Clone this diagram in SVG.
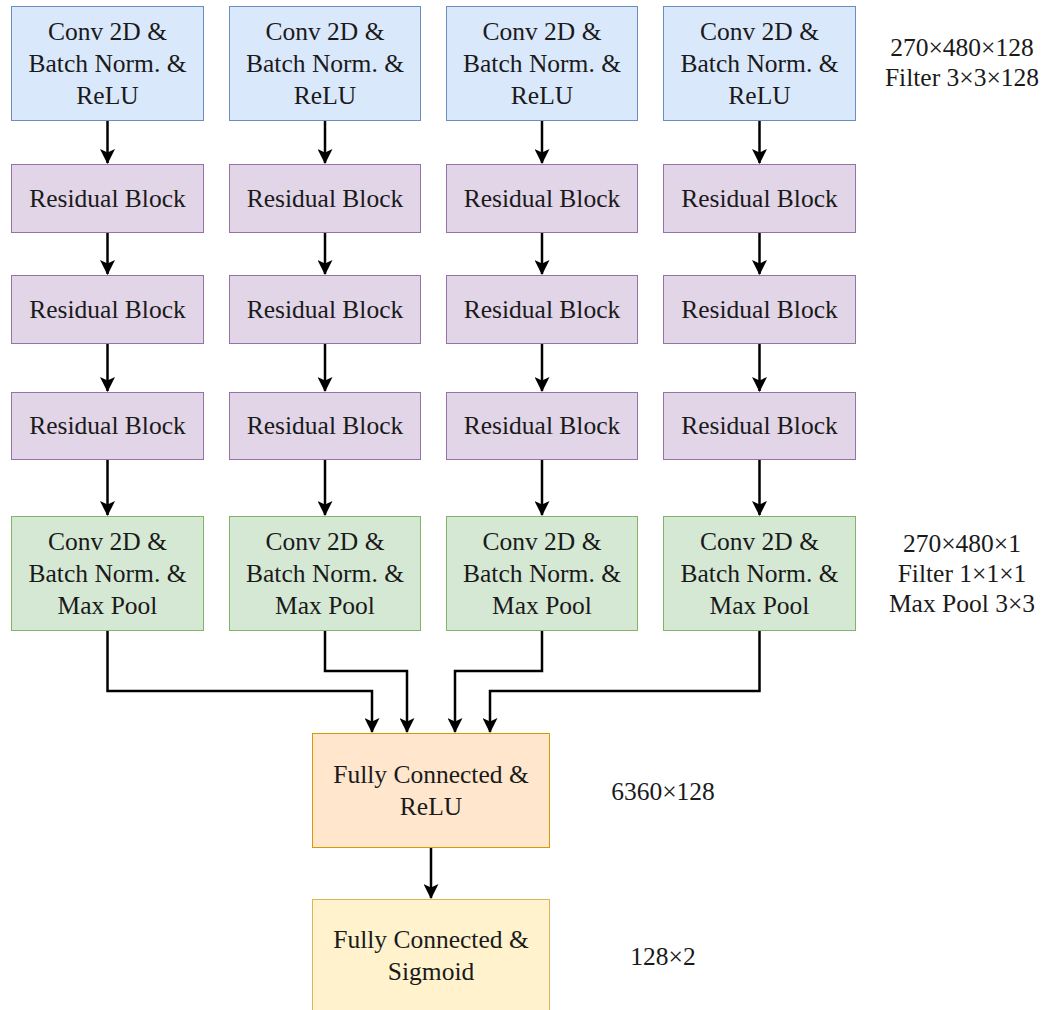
<svg xmlns="http://www.w3.org/2000/svg" width="1047" height="1010" viewBox="0 0 1047 1010">
<style>
text{font-family:"Liberation Serif","Times New Roman",serif;font-size:25.5px;fill:#1a1a1a;text-anchor:middle}
.blue{fill:#dae8fc;stroke:#6c8ebf;stroke-width:1}
.purple{fill:#e1d5e7;stroke:#9673a6;stroke-width:1}
.green{fill:#d5e8d4;stroke:#82b366;stroke-width:1}
.orange{fill:#ffe6cc;stroke:#d79b00;stroke-width:1}
.yellow{fill:#fff2cc;stroke:#d6b656;stroke-width:1}
.c{fill:none;stroke:#000;stroke-width:2.5;marker-end:url(#ah)}
</style>
<defs>
<marker id="ah" viewBox="0 0 15 15" refX="14" refY="7.5" markerWidth="15" markerHeight="15" markerUnits="userSpaceOnUse" orient="auto">
<path d="M0,0 L15,7.5 L0,15 L3.5,7.5 z" fill="#000"/>
</marker>
</defs>
<rect width="1047" height="1010" fill="#fff"/>

<g id="col1">
<g id="conv1"><rect class="blue" x="11.5" y="6.5" width="192" height="114"/><text x="107.5" y="40">Conv 2D &amp;</text><text x="107.5" y="72">Batch Norm. &amp;</text><text x="107.5" y="104">ReLU</text></g>
<g id="res1a"><rect class="purple" x="11.5" y="164.5" width="192" height="68"/><text x="107.5" y="207">Residual Block</text></g>
<g id="res1b"><rect class="purple" x="11.5" y="275.5" width="192" height="68"/><text x="107.5" y="318">Residual Block</text></g>
<g id="res1c"><rect class="purple" x="11.5" y="392.5" width="192" height="67"/><text x="107.5" y="434">Residual Block</text></g>
<g id="pool1"><rect class="green" x="11.5" y="516.5" width="192" height="114"/><text x="107.5" y="550">Conv 2D &amp;</text><text x="107.5" y="582">Batch Norm. &amp;</text><text x="107.5" y="614">Max Pool</text></g>
</g>

<g id="col2">
<g id="conv2"><rect class="blue" x="229.5" y="6.5" width="191" height="114"/><text x="325" y="40">Conv 2D &amp;</text><text x="325" y="72">Batch Norm. &amp;</text><text x="325" y="104">ReLU</text></g>
<g id="res2a"><rect class="purple" x="229.5" y="164.5" width="191" height="68"/><text x="325" y="207">Residual Block</text></g>
<g id="res2b"><rect class="purple" x="229.5" y="275.5" width="191" height="68"/><text x="325" y="318">Residual Block</text></g>
<g id="res2c"><rect class="purple" x="229.5" y="392.5" width="191" height="67"/><text x="325" y="434">Residual Block</text></g>
<g id="pool2"><rect class="green" x="229.5" y="516.5" width="191" height="114"/><text x="325" y="550">Conv 2D &amp;</text><text x="325" y="582">Batch Norm. &amp;</text><text x="325" y="614">Max Pool</text></g>
</g>

<g id="col3">
<g id="conv3"><rect class="blue" x="446.5" y="6.5" width="191" height="114"/><text x="542" y="40">Conv 2D &amp;</text><text x="542" y="72">Batch Norm. &amp;</text><text x="542" y="104">ReLU</text></g>
<g id="res3a"><rect class="purple" x="446.5" y="164.5" width="191" height="68"/><text x="542" y="207">Residual Block</text></g>
<g id="res3b"><rect class="purple" x="446.5" y="275.5" width="191" height="68"/><text x="542" y="318">Residual Block</text></g>
<g id="res3c"><rect class="purple" x="446.5" y="392.5" width="191" height="67"/><text x="542" y="434">Residual Block</text></g>
<g id="pool3"><rect class="green" x="446.5" y="516.5" width="191" height="114"/><text x="542" y="550">Conv 2D &amp;</text><text x="542" y="582">Batch Norm. &amp;</text><text x="542" y="614">Max Pool</text></g>
</g>

<g id="col4">
<g id="conv4"><rect class="blue" x="663.5" y="6.5" width="192" height="114"/><text x="759.5" y="40">Conv 2D &amp;</text><text x="759.5" y="72">Batch Norm. &amp;</text><text x="759.5" y="104">ReLU</text></g>
<g id="res4a"><rect class="purple" x="663.5" y="164.5" width="192" height="68"/><text x="759.5" y="207">Residual Block</text></g>
<g id="res4b"><rect class="purple" x="663.5" y="275.5" width="192" height="68"/><text x="759.5" y="318">Residual Block</text></g>
<g id="res4c"><rect class="purple" x="663.5" y="392.5" width="192" height="67"/><text x="759.5" y="434">Residual Block</text></g>
<g id="pool4"><rect class="green" x="663.5" y="516.5" width="192" height="114"/><text x="759.5" y="550">Conv 2D &amp;</text><text x="759.5" y="582">Batch Norm. &amp;</text><text x="759.5" y="614">Max Pool</text></g>
</g>

<g id="fc1"><rect class="orange" x="312.5" y="733.5" width="237" height="114"/><text x="431" y="783">Fully Connected &amp;</text><text x="431" y="815">ReLU</text></g>
<g id="fc2"><rect class="yellow" x="312.5" y="899.5" width="237" height="114"/><text x="431" y="948">Fully Connected &amp;</text><text x="431" y="980">Sigmoid</text></g>

<g id="labels">
<text x="962" y="56">270×480×128</text>
<text x="962" y="86">Filter 3×3×128</text>
<text x="962" y="552">270×480×1</text>
<text x="962" y="582">Filter 1×1×1</text>
<text x="962" y="612">Max Pool 3×3</text>
<text x="663" y="800">6360×128</text>
<text x="663" y="965">128×2</text>
</g>

<g id="connectors">
<path class="c" d="M107.5,121 V163"/>
<path class="c" d="M107.5,233 V274"/>
<path class="c" d="M107.5,344 V391"/>
<path class="c" d="M107.5,460 V515"/>
<path class="c" d="M325,121 V163"/>
<path class="c" d="M325,233 V274"/>
<path class="c" d="M325,344 V391"/>
<path class="c" d="M325,460 V515"/>
<path class="c" d="M542,121 V163"/>
<path class="c" d="M542,233 V274"/>
<path class="c" d="M542,344 V391"/>
<path class="c" d="M542,460 V515"/>
<path class="c" d="M759.5,121 V163"/>
<path class="c" d="M759.5,233 V274"/>
<path class="c" d="M759.5,344 V391"/>
<path class="c" d="M759.5,460 V515"/>
<path class="c" d="M107.5,631 V691 H372 V732"/>
<path class="c" d="M325,631 V671 H407 V732"/>
<path class="c" d="M542,631 V671 H455 V732"/>
<path class="c" d="M759.5,631 V691 H490 V732"/>
<path class="c" d="M431,848 V898"/>
</g>
</svg>
